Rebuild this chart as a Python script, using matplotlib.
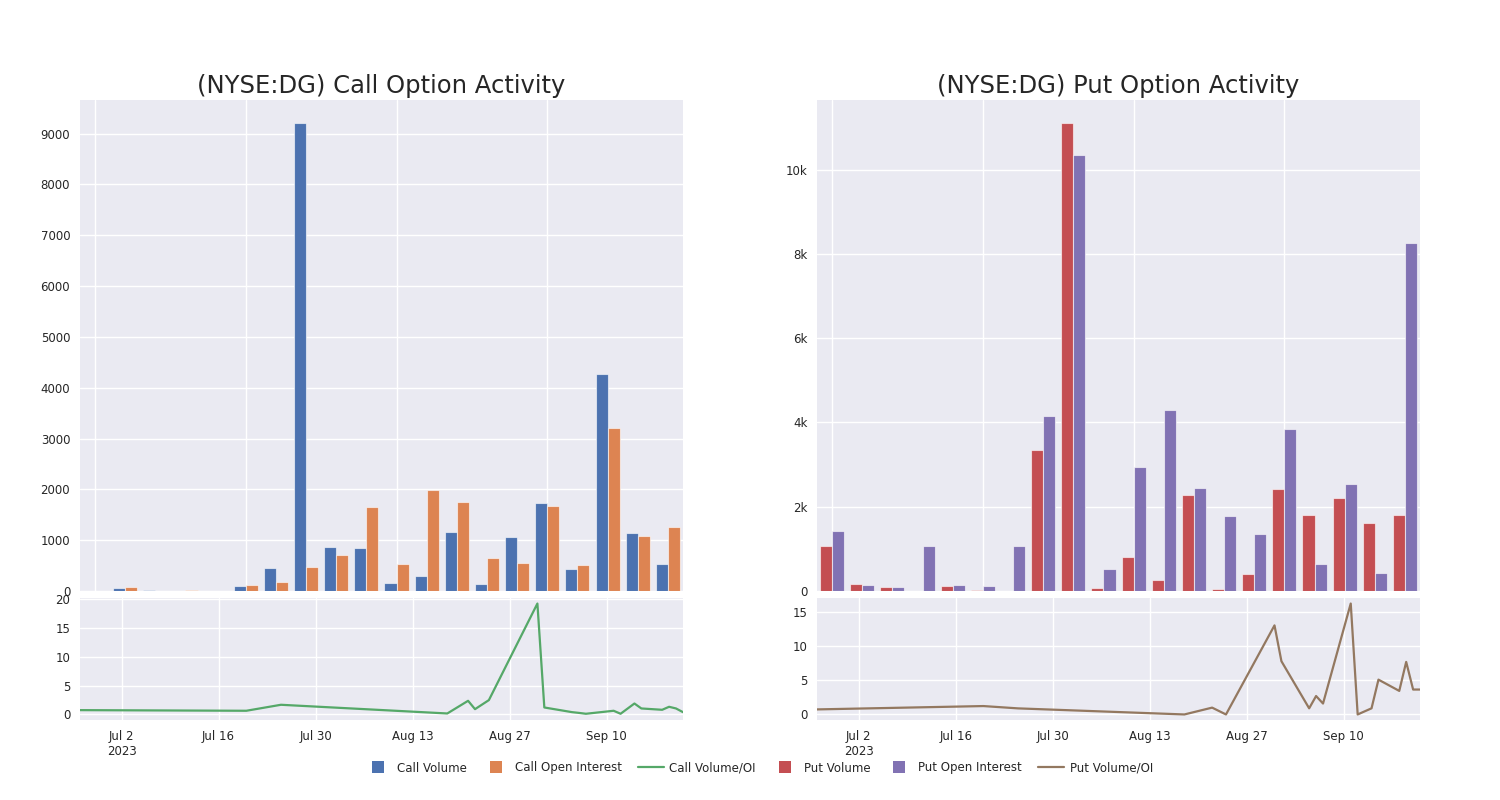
import pandas as pd
import matplotlib
matplotlib.use("Agg")
import matplotlib.pyplot as plt
from matplotlib.lines import Line2D
from matplotlib.ticker import FuncFormatter, MultipleLocator

# trading days in the window
dates = pd.to_datetime([
    "2023-06-26", "2023-07-20", "2023-07-25", "2023-08-18", "2023-08-21",
    "2023-08-22", "2023-08-24", "2023-08-31", "2023-09-01", "2023-09-05",
    "2023-09-06", "2023-09-07", "2023-09-11", "2023-09-12", "2023-09-14",
    "2023-09-15", "2023-09-18", "2023-09-19", "2023-09-20", "2023-09-21",
])

call_volume = [5, 50, 10, 3, 5, 100, 450, 9200, 870, 850,
               150, 290, 1160, 130, 1070, 1740, 430, 4260, 1150, 540]
call_oi = [5, 80, 5, 25, 2, 110, 180, 470, 700, 1650,
           530, 1980, 1760, 650, 560, 1670, 510, 3200, 1080, 1250]
call_ratio = [0.75, 0.64, 1.68, 0.17, 2.37, 0.92, 2.49, 19.25, 1.21, 0.4,
              0.27, 0.12, 0.64, 0.12, 1.9, 1.04, 0.81, 1.33, 1.04, 0.4]

put_volume = [1080, 170, 90, 0, 120, 30, 5, 3350, 11100, 80,
              800, 270, 2280, 40, 400, 2430, 1800, 2200, 1620, 1800]
put_oi = [1420, 140, 100, 1060, 150, 130, 1060, 4150, 10350, 520,
          2950, 4300, 2450, 1770, 1360, 3850, 650, 2550, 420, 8250]
put_ratio = [0.74, 1.23, 0.89, 0.0, 0.75, 1.0, 0.0, 13.05, 7.8, 0.9,
             2.7, 1.6, 16.25, 0.0, 0.9, 5.1, 3.45, 7.7, 3.65, 3.65]

tick_dates = pd.date_range("2023-07-02", "2023-09-10", freq="14D")

plt.style.use("seaborn-v0_8")
plt.rcParams["font.family"] = ["DejaVu Sans"]

BLUE, ORANGE, GREEN = "#4C72B0", "#DD8452", "#55A868"
RED, PURPLE, BROWN = "#C44E52", "#8172B3", "#937860"

fig = plt.figure(figsize=(15, 8), dpi=100)


def date_label(x, pos):
    d = matplotlib.dates.num2date(x)
    s = f"{d:%b} {d.day}"
    if pos == 0:
        s += "\n2023"
    return s


def panel(left, title, vol, oi, ratio, c1, c2, c3, yfmt, ystep):
    ax = fig.add_axes([left, 0.26125, 0.402, 0.61375])
    axl = fig.add_axes([left, 0.1, 0.402, 0.1525])
    x = list(range(len(vol)))
    ax.bar([i - 0.2 for i in x], vol, width=0.4, color=c1,
           edgecolor=(1, 1, 1, 0.6), linewidth=0.8)
    ax.bar([i + 0.2 for i in x], oi, width=0.4, color=c2,
           edgecolor=(1, 1, 1, 0.6), linewidth=0.8)
    ax.set_xlim(-0.5, len(vol) - 0.5)
    ax.set_ylim(0, max(max(vol), max(oi)) * 1.05)
    ax.set_xticks(range(0, len(vol), 5))
    ax.yaxis.set_major_locator(MultipleLocator(ystep))
    ax.tick_params(labelbottom=False, labelsize=8.5, length=0)
    ax.yaxis.set_major_formatter(FuncFormatter(yfmt))
    ax.set_title(title, fontsize=17.5, pad=5, color="#262626")

    axl.plot(dates, ratio, color=c3, linewidth=1.6)
    axl.set_xlim(dates[0], dates[-1])
    axl.set_xticks(tick_dates)
    axl.xaxis.set_major_formatter(FuncFormatter(date_label))
    axl.tick_params(labelsize=8.5, length=0)
    axl.set_yticks(range(0, int(max(ratio)) + 5, 5))
    axl.set_ylim(-0.05 * max(ratio), max(ratio) * 1.05)


panel(0.0533, "(NYSE:DG) Call Option Activity", call_volume, call_oi, call_ratio,
      BLUE, ORANGE, GREEN, lambda v, p: f"{int(v)}", 1000)
panel(0.5447, "(NYSE:DG) Put Option Activity", put_volume, put_oi, put_ratio,
      RED, PURPLE, BROWN,
      lambda v, p: "0" if v == 0 else f"{int(v / 1000)}k", 2000)

handles = [
    Line2D([], [], marker="s", linestyle="none", color=BLUE, markersize=8),
    Line2D([], [], marker="s", linestyle="none", color=ORANGE, markersize=8),
    Line2D([], [], color=GREEN, linewidth=1.6),
    Line2D([], [], marker="s", linestyle="none", color=RED, markersize=8),
    Line2D([], [], marker="s", linestyle="none", color=PURPLE, markersize=8),
    Line2D([], [], color=BROWN, linewidth=1.6),
]
labels = ["Call Volume", "Call Open Interest", "Call Volume/OI",
          "Put Volume", "Put Open Interest", "Put Volume/OI"]
fig.legend(handles, labels, loc="center", bbox_to_anchor=(0.506, 0.04),
           ncol=6, frameon=False, fontsize=8.5, handlelength=2.2,
           handletextpad=0.5, columnspacing=1.35)

fig.savefig("out.png", dpi=100)
